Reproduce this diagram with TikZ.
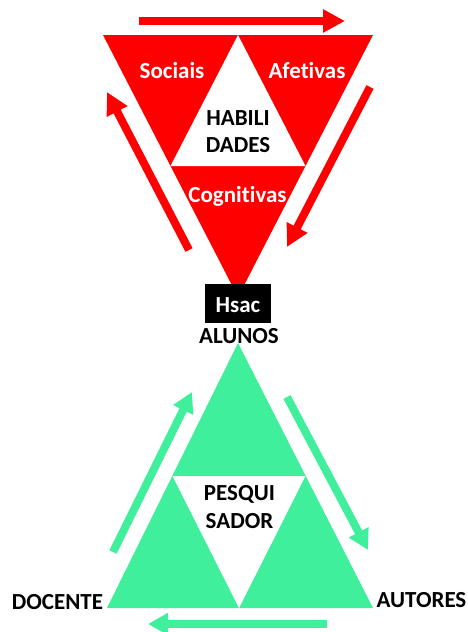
\documentclass[tikz,border=0pt]{standalone}
\usepackage{fontspec}
\setmainfont{Carlito}[Ligatures={NoCommon}]
\usetikzlibrary{arrows.meta}
\definecolor{hred}{RGB}{255,0,0}
\definecolor{pgreen}{RGB}{63,239,155}
\begin{document}
\begin{tikzpicture}[x=1pt,y=-1pt,
  lab/.style={font=\fontsize{23}{27}\selectfont\bfseries, inner sep=0pt, anchor=base},
  redarrow/.style={draw=hred, line width=8pt, -{Triangle[length=22pt,width=22pt]}},
  greenarrow/.style={draw=pgreen, line width=8pt, -{Triangle[length=20pt,width=21pt]}}]
\useasboundingbox (0,0) rectangle (467,632);
% red inverted triangle
\coordinate (rTL) at (103,35);
\coordinate (rTR) at (373,35);
\coordinate (rB) at (238,297);
\coordinate (rI1) at (238,35);
\coordinate (rI2) at (170.5,166);
\coordinate (rI3) at (305.5,166);
\fill[hred] (rTL) -- (rTR) -- (rB) -- cycle;
\fill[white] (rI1) -- (rI2) -- (rI3) -- cycle;
% green triangle
\coordinate (gT) at (238,343);
\coordinate (gL) at (107,608);
\coordinate (gR) at (373,608);
\coordinate (gI1) at (172.5,476);
\coordinate (gI2) at (305.5,476);
\coordinate (gI3) at (239,608);
\fill[pgreen] (gT) -- (gL) -- (gR) -- cycle;
\fill[white] (gI1) -- (gI2) -- (gI3) -- cycle;
% red arrows
\coordinate (ra1) at (139,21); \coordinate (ra2) at (345,21);
\coordinate (rb1) at (370,87); \coordinate (rb2) at (287,247);
\coordinate (rc1) at (189,250); \coordinate (rc2) at (107,92);
\draw[redarrow] (ra1) -- (ra2);
\draw[redarrow] (rb1) -- (rb2);
\draw[redarrow] (rc1) -- (rc2);
% green arrows
\coordinate (ga1) at (113,552); \coordinate (ga2) at (192,392);
\coordinate (gb1) at (287,397); \coordinate (gb2) at (368,550);
\coordinate (gc1) at (327,624); \coordinate (gc2) at (148,624);
\draw[greenarrow] (ga1) -- (ga2);
\draw[greenarrow] (gb1) -- (gb2);
\draw[greenarrow] (gc1) -- (gc2);
% labels
\node[lab, text=white] (soc) at (172,78) {Sociais};
\node[lab, text=white] (afe) at (307,78) {Afetivas};
\node[lab] (hab1) at (238,125) {HABILI};
\node[lab] (hab2) at (238,152) {DADES};
\node[lab, text=white] (cog) at (237.5,202) {Cognitivas};
\node[fill=black, minimum width=66pt, minimum height=39pt, inner sep=0pt] (hsac) at (238,303.5) {};
\node[lab, text=white] (hsactxt) at (238,312) {Hsac};
\node[lab] (alu) at (239,343) {ALUNOS};
\node[lab] (pes1) at (239.5,500) {PESQUI};
\node[lab] (pes2) at (239.5,528) {SADOR};
\node[lab] (doc) at (57.5,609) {DOCENTE};
\node[lab] (aut) at (421.5,607) {AUTORES};
\end{tikzpicture}
\end{document}
